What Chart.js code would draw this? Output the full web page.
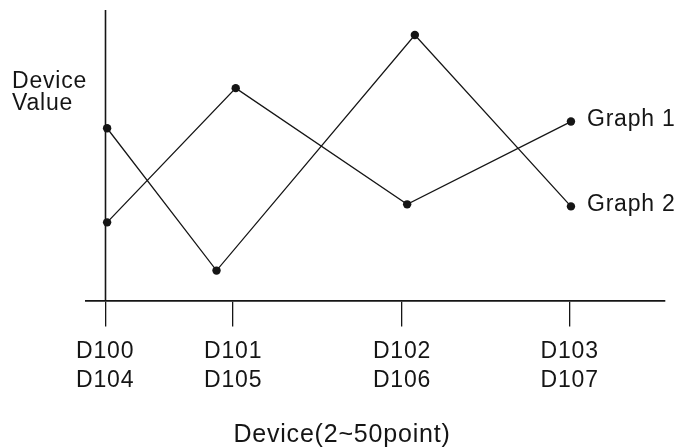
<!DOCTYPE html>
<html>
<head>
<meta charset="utf-8">
<script src="https://cdn.jsdelivr.net/npm/chart.js@4"></script>
<style>
  html, body { margin: 0; padding: 0; background: #fff; }
  #wrap { width: 684px; height: 448px; }
</style>
</head>
<body>
<div id="wrap"><canvas id="myChart"></canvas></div>
<script>
// data
const seriesNames = ['Graph 1', 'Graph 2'];
const tickPos = [0, 10, 23.2, 36.3];
const tickLabels = [['D100', 'D104'], ['D101', 'D105'], ['D102', 'D106'], ['D103', 'D107']];
const graph1X = [0.15, 10.2, 23.6, 36.4];
const graph1Y = [26.9, 73.1, 33.1, 61.6];
const graph2X = [0.15, 8.7, 24.2, 36.4];
const graph2Y = [59.3, 10.3, 91.4, 32.4];
const yTitle = ['Device', 'Value'];
const xTitle = 'Device(2~50point)';

const FONT = "'Liberation Sans', Arial, sans-serif";
const INK = '#151515';

let toPoints = (xs, ys) => xs.map((x, i) => ({ x: x, y: ys[i] }));

// y axis line at x = 0, text spacing like the reference
const axisLine = {
  id: 'axisLine',
  beforeDraw(chart) {
    chart.ctx.letterSpacing = '0.8px';
  },
  beforeDatasetsDraw(chart) {
    const ctx = chart.ctx;
    const x = Math.round(chart.scales.x.getPixelForValue(0)) + 0.5;
    ctx.save();
    ctx.strokeStyle = INK;
    ctx.lineWidth = 1.6;
    ctx.beginPath();
    ctx.moveTo(x, chart.chartArea.top);
    ctx.lineTo(x, chart.chartArea.bottom);
    ctx.stroke();
    ctx.restore();
  }
};

// series names next to the last point, plus the y title
const labels = {
  id: 'labels',
  afterDatasetsDraw(chart) {
    const ctx = chart.ctx;
    ctx.save();
    ctx.font = '23px ' + FONT;
    ctx.fillStyle = INK;
    ctx.textAlign = 'left';
    ctx.textBaseline = 'middle';
    chart.data.datasets.forEach((ds, i) => {
      const pts = chart.getDatasetMeta(i).data;
      const last = pts[pts.length - 1];
      ctx.fillText(ds.label, last.x + 16, last.y - 2);
    });
    ctx.textBaseline = 'alphabetic';
    yTitle.forEach((t, i) => ctx.fillText(t, 12, 88 + i * 22));
    ctx.restore();
  }
};

// empty side axes just to hold the margins
let spacer = (w) => ({
  display: true,
  min: 0,
  max: 100,
  ticks: { display: false },
  grid: { display: false },
  border: { display: false },
  afterFit: (scale) => { scale.width = w; }
});

const ctx = document.getElementById('myChart');
const config = {
  type: 'line',
  data: {
    datasets: [
      { label: seriesNames[0], data: toPoints(graph1X, graph1Y) },
      { label: seriesNames[1], data: toPoints(graph2X, graph2Y) }
    ]
  },
  options: {
    responsive: true,
    maintainAspectRatio: false,
    animation: false,
    layout: { padding: { left: 0, right: 0, top: 10, bottom: 0 } },
    elements: {
      line: { borderColor: INK, borderWidth: 1.3, tension: 0 },
      point: { radius: 4.2, backgroundColor: INK, borderColor: INK, borderWidth: 0 }
    },
    datasets: { line: { clip: false } },
    plugins: {
      legend: { display: false },
      tooltip: { enabled: false },
      title: {
        display: true,
        position: 'bottom',
        text: xTitle,
        color: INK,
        font: { family: FONT, size: 25, weight: 'normal', lineHeight: 1.0 },
        padding: { top: 17, bottom: 0 }
      }
    },
    scales: {
      x: {
        type: 'linear',
        min: -1.5,
        max: 43.75,
        afterBuildTicks: (scale) => { scale.ticks = tickPos.map(v => ({ value: v })); },
        ticks: {
          autoSkip: false,
          maxRotation: 0,
          padding: 11,
          color: INK,
          font: { family: FONT, size: 23, lineHeight: 1.25 },
          callback: (value, index) => tickLabels[index]
        },
        grid: { drawOnChartArea: false, drawTicks: true, tickLength: 26, color: INK, lineWidth: 1.3 },
        border: { display: true, color: INK, width: 1.8 }
      },
      y: Object.assign(spacer(86), { position: 'left' }),
      yr: Object.assign(spacer(19), { position: 'right' })
    }
  },
  plugins: [axisLine, labels]
};
const chart = new Chart(ctx, config);
</script>
</body>
</html>
